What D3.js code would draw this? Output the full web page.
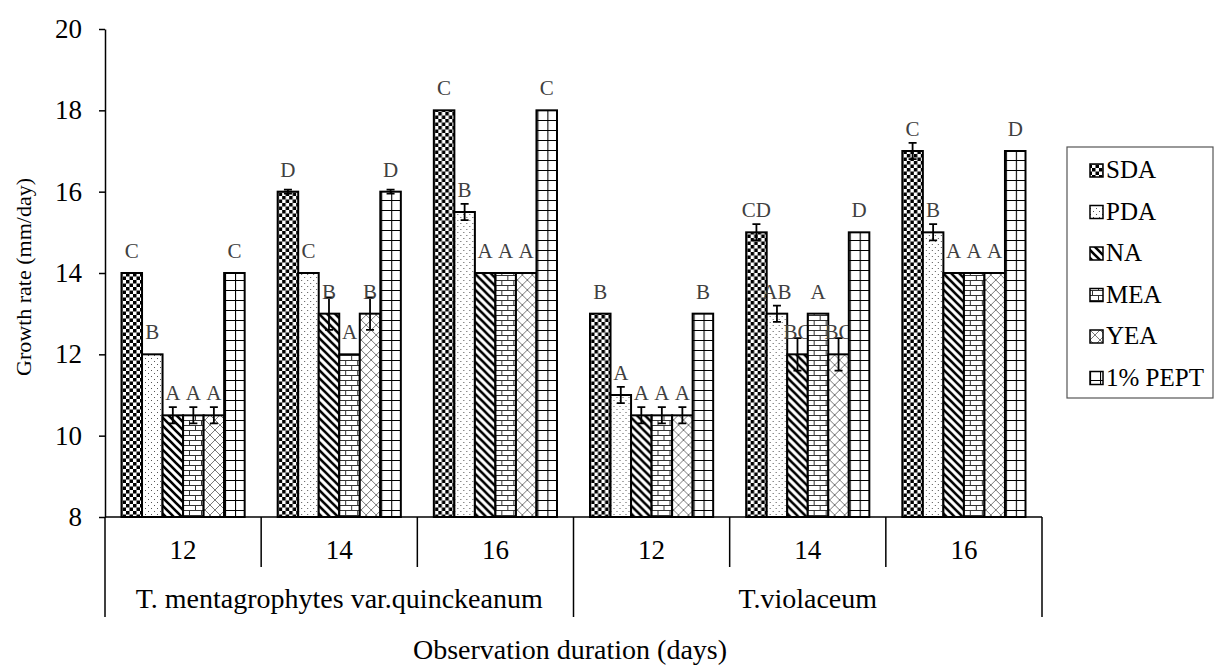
<!DOCTYPE html>
<html>
<head>
<meta charset="utf-8">
<script src="https://cdn.jsdelivr.net/npm/d3@7"></script>
<style>
  body { margin: 0; background: #fff; }
  svg text { font-family: "Liberation Serif", "Times New Roman", serif; }
</style>
</head>
<body>
<div id="chart"></div>
<script>
// data
var species = ["T. mentagrophytes var.quinckeanum", "T.violaceum"];
var days = ["12", "14", "16"];
var media = ["SDA", "PDA", "NA", "MEA", "YEA", "1% PEPT"];
var growth = [
  [14, 12, 10.5, 10.5, 10.5, 14],
  [16, 14, 13, 12, 13, 16],
  [18, 15.5, 14, 14, 14, 18],
  [13, 11, 10.5, 10.5, 10.5, 13],
  [15, 13, 12, 13, 12, 15],
  [17, 15, 14, 14, 14, 17]
];
var errs = [
  [0, 0, 0.2, 0.2, 0.2, 0],
  [0.05, 0, 0.4, 0, 0.4, 0.05],
  [0, 0.2, 0, 0, 0, 0],
  [0, 0.2, 0.2, 0.2, 0.2, 0],
  [0.2, 0.2, 0.4, 0, 0.4, 0],
  [0.2, 0.2, 0, 0, 0, 0]
];
var letters = [
  ["C", "B", "A", "A", "A", "C"],
  ["D", "C", "B", "A", "B", "D"],
  ["C", "B", "A", "A", "A", "C"],
  ["B", "A", "A", "A", "A", "B"],
  ["CD", "AB", "BC", "A", "BC", "D"],
  ["C", "B", "A", "A", "A", "D"]
];
var yTicks = [8, 10, 12, 14, 16, 18, 20];

var W = 1219, H = 666;
var mLeft = 105, mRight = 1042, mTop = 29, mBottom = 517;

var svg = d3.select("#chart").append("svg")
  .attr("width", W).attr("height", H);

// fill patterns
var defs = svg.append("defs");
function pat(id, w, h) {
  var p = defs.append("pattern").attr("id", id)
    .attr("patternUnits", "userSpaceOnUse")
    .attr("width", w).attr("height", h);
  p.append("rect").attr("width", w).attr("height", h).attr("fill", "#fff");
  return p;
}
var p0 = pat("p-sda", 7, 7);
p0.append("rect").attr("width", 3.5).attr("height", 3.5).attr("fill", "#000");
p0.append("rect").attr("x", 3.5).attr("y", 3.5).attr("width", 3.5).attr("height", 3.5).attr("fill", "#000");

var p1 = pat("p-pda", 6, 6);
p1.append("rect").attr("x", 1).attr("y", 1).attr("width", 1).attr("height", 1).attr("fill", "#555");
p1.append("rect").attr("x", 4).attr("y", 4).attr("width", 1).attr("height", 1).attr("fill", "#555");

var p2 = pat("p-na", 8, 8);
p2.append("path").attr("d", "M-2,-2L10,10M-2,6L2,10M6,-2L10,2")
  .attr("stroke", "#000").attr("stroke-width", 2.6);

var p3 = pat("p-mea", 12, 10);
p3.append("path").attr("d", "M0,0.5H12M0,5.5H12M0.5,0V5M6.5,5V10")
  .attr("stroke", "#333").attr("stroke-width", 1);

var p4 = pat("p-yea", 10, 10);
p4.append("path").attr("d", "M0,0L10,10M10,0L0,10")
  .attr("stroke", "#555").attr("stroke-width", 0.8);

var p5 = pat("p-pept", 10, 10);
p5.append("path").attr("d", "M0.5,0V10M0,0.5H10")
  .attr("stroke", "#000").attr("stroke-width", 1.2);

var fills = ["url(#p-sda)", "url(#p-pda)", "url(#p-na)", "url(#p-mea)", "url(#p-yea)", "url(#p-pept)"];

// scales
var groups = d3.range(species.length * days.length);
var x0 = d3.scaleBand().domain(groups).range([mLeft, mRight]);
var x1 = d3.scaleBand().domain(media).range([16.5, x0.bandwidth() - 16.5]);
var y = d3.scaleLinear().domain([8, 20]).range([mBottom, mTop]);

// y axis
var yAxis = svg.append("g")
  .attr("transform", "translate(" + mLeft + ",0)")
  .call(d3.axisLeft(y).tickValues(yTicks).tickSize(6).tickSizeOuter(0).tickPadding(17));
yAxis.select(".domain").attr("stroke", "#000").attr("stroke-width", 1.5);
yAxis.selectAll(".tick line").attr("stroke", "#000").attr("stroke-width", 1.5);
yAxis.selectAll(".tick text").attr("font-size", 27).attr("fill", "#000")
  .style("font-family", "Liberation Serif");

svg.append("text")
  .attr("transform", "translate(31," + ((mTop + mBottom) / 2 + 4) + ") rotate(-90)")
  .attr("text-anchor", "middle")
  .attr("font-size", 22)
  .text("Growth rate (mm/day)");

// bars
var gBars = svg.append("g");
groups.forEach(function (g) {
  var gg = gBars.append("g").attr("transform", "translate(" + x0(g) + ",0)");
  media.forEach(function (m, i) {
    var v = growth[g][i], e = errs[g][i];
    var cx = x1(m) + x1.bandwidth() / 2;
    gg.append("rect")
      .attr("x", x1(m)).attr("y", y(v))
      .attr("width", x1.bandwidth()).attr("height", y(8) - y(v))
      .attr("fill", fills[i]).attr("stroke", "#000").attr("stroke-width", 2);
    if (e > 0) {
      gg.append("path")
        .attr("d", "M" + cx + "," + y(v + e) + "V" + y(v - e) +
          "M" + (cx - 4) + "," + y(v + e) + "H" + (cx + 4) +
          "M" + (cx - 4) + "," + y(v - e) + "H" + (cx + 4))
        .attr("stroke", "#000").attr("stroke-width", 1.8).attr("fill", "none");
    }
    gg.append("text")
      .attr("x", cx).attr("y", y(v) - 15)
      .attr("text-anchor", "middle")
      .attr("font-size", 21).attr("fill", "#404040")
      .text(letters[g][i]);
  });
});

// category axis
svg.append("line").attr("x1", mLeft).attr("x2", mRight)
  .attr("y1", mBottom).attr("y2", mBottom)
  .attr("stroke", "#000").attr("stroke-width", 1.5);
groups.forEach(function (g) {
  svg.append("text")
    .attr("x", x0(g) + x0.bandwidth() / 2).attr("y", 559)
    .attr("text-anchor", "middle").attr("font-size", 27)
    .text(days[g % days.length]);
});
d3.range(groups.length + 1).forEach(function (k) {
  var xx = k < groups.length ? x0(k) : mRight;
  var long = k % days.length === 0;
  svg.append("line").attr("x1", xx).attr("x2", xx)
    .attr("y1", mBottom).attr("y2", long ? 617 : 567)
    .attr("stroke", "#000").attr("stroke-width", 1.5);
});
species.forEach(function (s, i) {
  var a = x0(i * days.length), b = i === species.length - 1 ? mRight : x0((i + 1) * days.length);
  svg.append("text")
    .attr("x", (a + b) / 2).attr("y", 608)
    .attr("text-anchor", "middle").attr("font-size", 28)
    .text(s);
});

svg.append("text")
  .attr("x", 570).attr("y", 659)
  .attr("text-anchor", "middle").attr("font-size", 28)
  .text("Observation duration (days)");

// legend
var lg = svg.append("g");
lg.append("rect").attr("x", 1067).attr("y", 147).attr("width", 146).attr("height", 251)
  .attr("fill", "#fff").attr("stroke", "#555").attr("stroke-width", 1.2);
media.forEach(function (m, i) {
  var yy = 170 + i * 41.5;
  lg.append("rect").attr("x", 1090).attr("y", yy - 6).attr("width", 13).attr("height", 13)
    .attr("fill", fills[i]).attr("stroke", "#000").attr("stroke-width", 1.5);
  lg.append("text").attr("x", 1106).attr("y", yy + 8)
    .attr("font-size", 25).text(m);
});
</script>
</body>
</html>
